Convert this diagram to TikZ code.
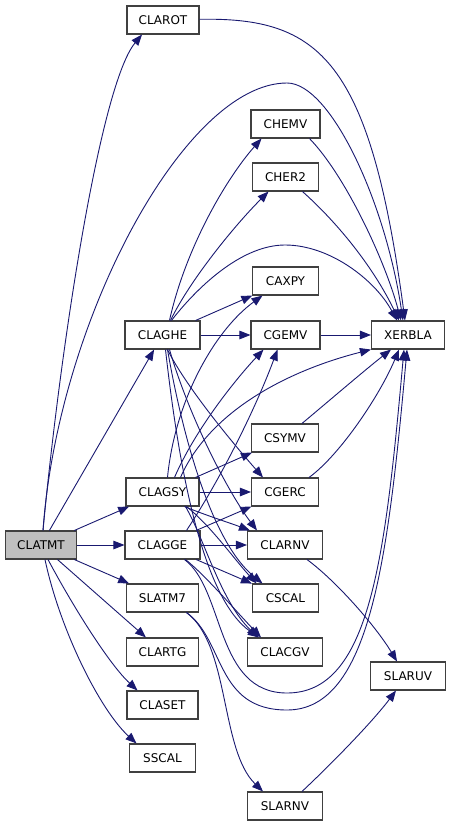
\documentclass[tikz,border=0pt]{standalone}
\usepackage{fontspec}
\setmainfont{DejaVu Sans}
\usetikzlibrary{arrows.meta}
\definecolor{edgec}{RGB}{25,25,112}
\definecolor{bordc}{RGB}{64,64,64}
\definecolor{curc}{RGB}{191,191,191}
\begin{document}
\begin{tikzpicture}[x=1bp,y=-1bp,
  box/.style={draw=bordc, line width=1.1bp, fill=white, minimum height=28bp, inner sep=0pt,
    font=\fontsize{12bp}{14bp}\selectfont},
  call/.style={draw=edgec, line width=0.9bp, -{Triangle[length=11bp,width=8.5bp]}}]
\useasboundingbox (0,0) rectangle (451,827);
% nodes
\node[box, minimum width=72bp] (CLAROT) at (163,20) {CLAROT};
\node[box, minimum width=69bp] (CHEMV) at (285.5,124) {CHEMV};
\node[box, minimum width=66bp] (CHER2) at (285.5,177) {CHER2};
\node[box, minimum width=66bp] (CAXPY) at (285.5,281) {CAXPY};
\node[box, minimum width=75bp] (CLAGHE) at (162.5,335) {CLAGHE};
\node[box, minimum width=69bp] (CGEMV) at (285.5,335) {CGEMV};
\node[box, minimum width=73bp] (XERBLA) at (408,335) {XERBLA};
\node[box, minimum width=67bp] (CSYMV) at (285,438) {CSYMV};
\node[box, minimum width=73bp] (CLAGSY) at (162.5,492) {CLAGSY};
\node[box, minimum width=67bp] (CGERC) at (285,492) {CGERC};
\node[box, minimum width=71bp, fill=curc] (CLATMT) at (41,545) {CLATMT};
\node[box, minimum width=75bp] (CLAGGE) at (162.5,545) {CLAGGE};
\node[box, minimum width=75bp] (CLARNV) at (285,545) {CLARNV};
\node[box, minimum width=72bp] (SLATM7) at (162.5,598) {SLATM7};
\node[box, minimum width=66bp] (CSCAL) at (285.5,598) {CSCAL};
\node[box, minimum width=72bp] (CLARTG) at (162.5,652) {CLARTG};
\node[box, minimum width=75bp] (CLACGV) at (285,652) {CLACGV};
\node[box, minimum width=75bp] (SLARUV) at (408,676) {SLARUV};
\node[box, minimum width=71bp] (CLASET) at (162.5,705) {CLASET};
\node[box, minimum width=66bp] (SSCAL) at (162.5,758) {SSCAL};
\node[box, minimum width=75bp] (SLARNV) at (285,806) {SLARNV};
% CLATMT
\draw[call] ([xshift=2bp]CLATMT.north) .. controls (60,350) and (100,85) .. ([xshift=-21bp]CLAROT.south);
\draw[call] ([xshift=2bp]CLATMT.north) .. controls (58,320) and (185,83) .. (287,83) .. controls (330,83) and (385,200) .. ([xshift=-5bp]XERBLA.north);
\draw[call] (CLATMT) -- (CLAGHE);
\draw[call] (CLATMT) -- (CLAGSY);
\draw[call] (CLATMT) -- (CLAGGE);
\draw[call] (CLATMT) -- (SLATM7);
\draw[call] (CLATMT) -- (CLARTG);
\draw[call] ([xshift=7bp]CLATMT.south) .. controls (75,610) and (110,665) .. ([xshift=-25bp]CLASET.north);
\draw[call] ([xshift=4bp]CLATMT.south) .. controls (60,630) and (100,710) .. ([xshift=-26bp]SSCAL.north);
% CLAROT
\draw[call] (CLAROT) .. controls (320,17) and (370,60) .. ([xshift=-3bp]XERBLA.north);
% CLAGHE
\draw[call] ([xshift=7bp]CLAGHE.north) .. controls (185,250) and (225,180) .. ([xshift=-24bp]CHEMV.south);
\draw[call] ([xshift=8bp]CLAGHE.north) .. controls (190,280) and (235,225) .. ([xshift=-17bp]CHER2.south);
\draw[call] ([xshift=9bp]CLAGHE.north) .. controls (195,290) and (240,245) .. (285,245) .. controls (330,245) and (375,280) .. ([xshift=-11bp]XERBLA.north);
\draw[call] (CLAGHE) -- (CAXPY);
\draw[call] (CLAGHE) -- (CGEMV);
\draw[call] ([xshift=5bp]CLAGHE.south) .. controls (185,385) and (230,440) .. ([xshift=-22bp]CGERC.north);
\draw[call] ([xshift=7bp]CLAGHE.south) .. controls (190,420) and (230,495) .. ([xshift=-28bp]CLARNV.north);
\draw[call] ([xshift=5bp]CLAGHE.south) .. controls (185,450) and (215,545) .. ([xshift=-23bp]CSCAL.north);
\draw[call] ([xshift=3bp]CLAGHE.south) .. controls (180,480) and (205,600) .. ([xshift=-26bp]CLACGV.north);
% CLAGSY
\draw[call] ([xshift=5bp]CLAGSY.north) .. controls (175,400) and (215,330) .. ([xshift=-23bp]CAXPY.south);
\draw[call] ([xshift=12bp]CLAGSY.north) .. controls (195,430) and (235,380) .. ([xshift=-22bp]CGEMV.south);
\draw[call] ([xshift=18bp]CLAGSY.north) .. controls (210,410) and (290,370) .. (XERBLA.south west);
\draw[call] (CLAGSY) -- (CSYMV);
\draw[call] (CLAGSY) -- (CGERC);
\draw[call] ([xshift=22bp]CLAGSY.south) .. controls (205,515) and (230,523) .. ([xshift=-35bp]CLARNV.north);
\draw[call] ([xshift=24bp]CLAGSY.south) .. controls (210,525) and (235,560) .. ([xshift=-29bp]CSCAL.north);
\draw[call] ([xshift=23bp]CLAGSY.south) .. controls (205,540) and (220,600) .. ([xshift=-27bp]CLACGV.north);
% CLAGGE
\draw[call] ([xshift=24bp]CLAGGE.north) .. controls (220,480) and (255,410) .. ([xshift=-8bp]CGEMV.south);
\draw[call] (CLAGGE) -- (CGERC);
\draw[call] (CLAGGE) -- (CLARNV);
\draw[call] (CLAGGE) -- (CSCAL);
\draw[call] ([xshift=23bp]CLAGGE.south) .. controls (205,575) and (235,610) .. ([xshift=-24bp]CLACGV.north);
\draw[call] ([xshift=22bp]CLAGGE.south) .. controls (225,590) and (215,693) .. (287,693) .. controls (370,693) and (385,560) .. ([xshift=-4bp]XERBLA.south);
% SLATM7
\draw[call] ([xshift=24bp]SLATM7.south) .. controls (225,640) and (215,710) .. (287,710) .. controls (370,710) and (388,560) .. ([xshift=-1bp]XERBLA.south);
\draw[call] ([xshift=24bp]SLATM7.south) .. controls (230,645) and (220,750) .. ([xshift=-22bp]SLARNV.north);
% others
\draw[call] ([xshift=24bp]CHEMV.south) .. controls (345,175) and (385,260) .. ([xshift=-7bp]XERBLA.north);
\draw[call] ([xshift=17bp]CHER2.south) .. controls (340,225) and (375,270) .. ([xshift=-9bp]XERBLA.north);
\draw[call] (CGEMV) -- (XERBLA);
\draw[call] ([xshift=17bp]CSYMV.north) .. controls (330,400) and (365,370) .. ([xshift=-17bp]XERBLA.south);
\draw[call] ([xshift=24bp]CGERC.north) .. controls (340,455) and (380,395) .. ([xshift=-9bp]XERBLA.south);
\draw[call] ([xshift=22bp]CLARNV.south) .. controls (335,580) and (375,625) .. ([xshift=-11bp]SLARUV.north);
\draw[call] ([xshift=17bp]SLARNV.north) .. controls (325,770) and (370,725) .. ([xshift=-12bp]SLARUV.south);
\end{tikzpicture}
\end{document}
